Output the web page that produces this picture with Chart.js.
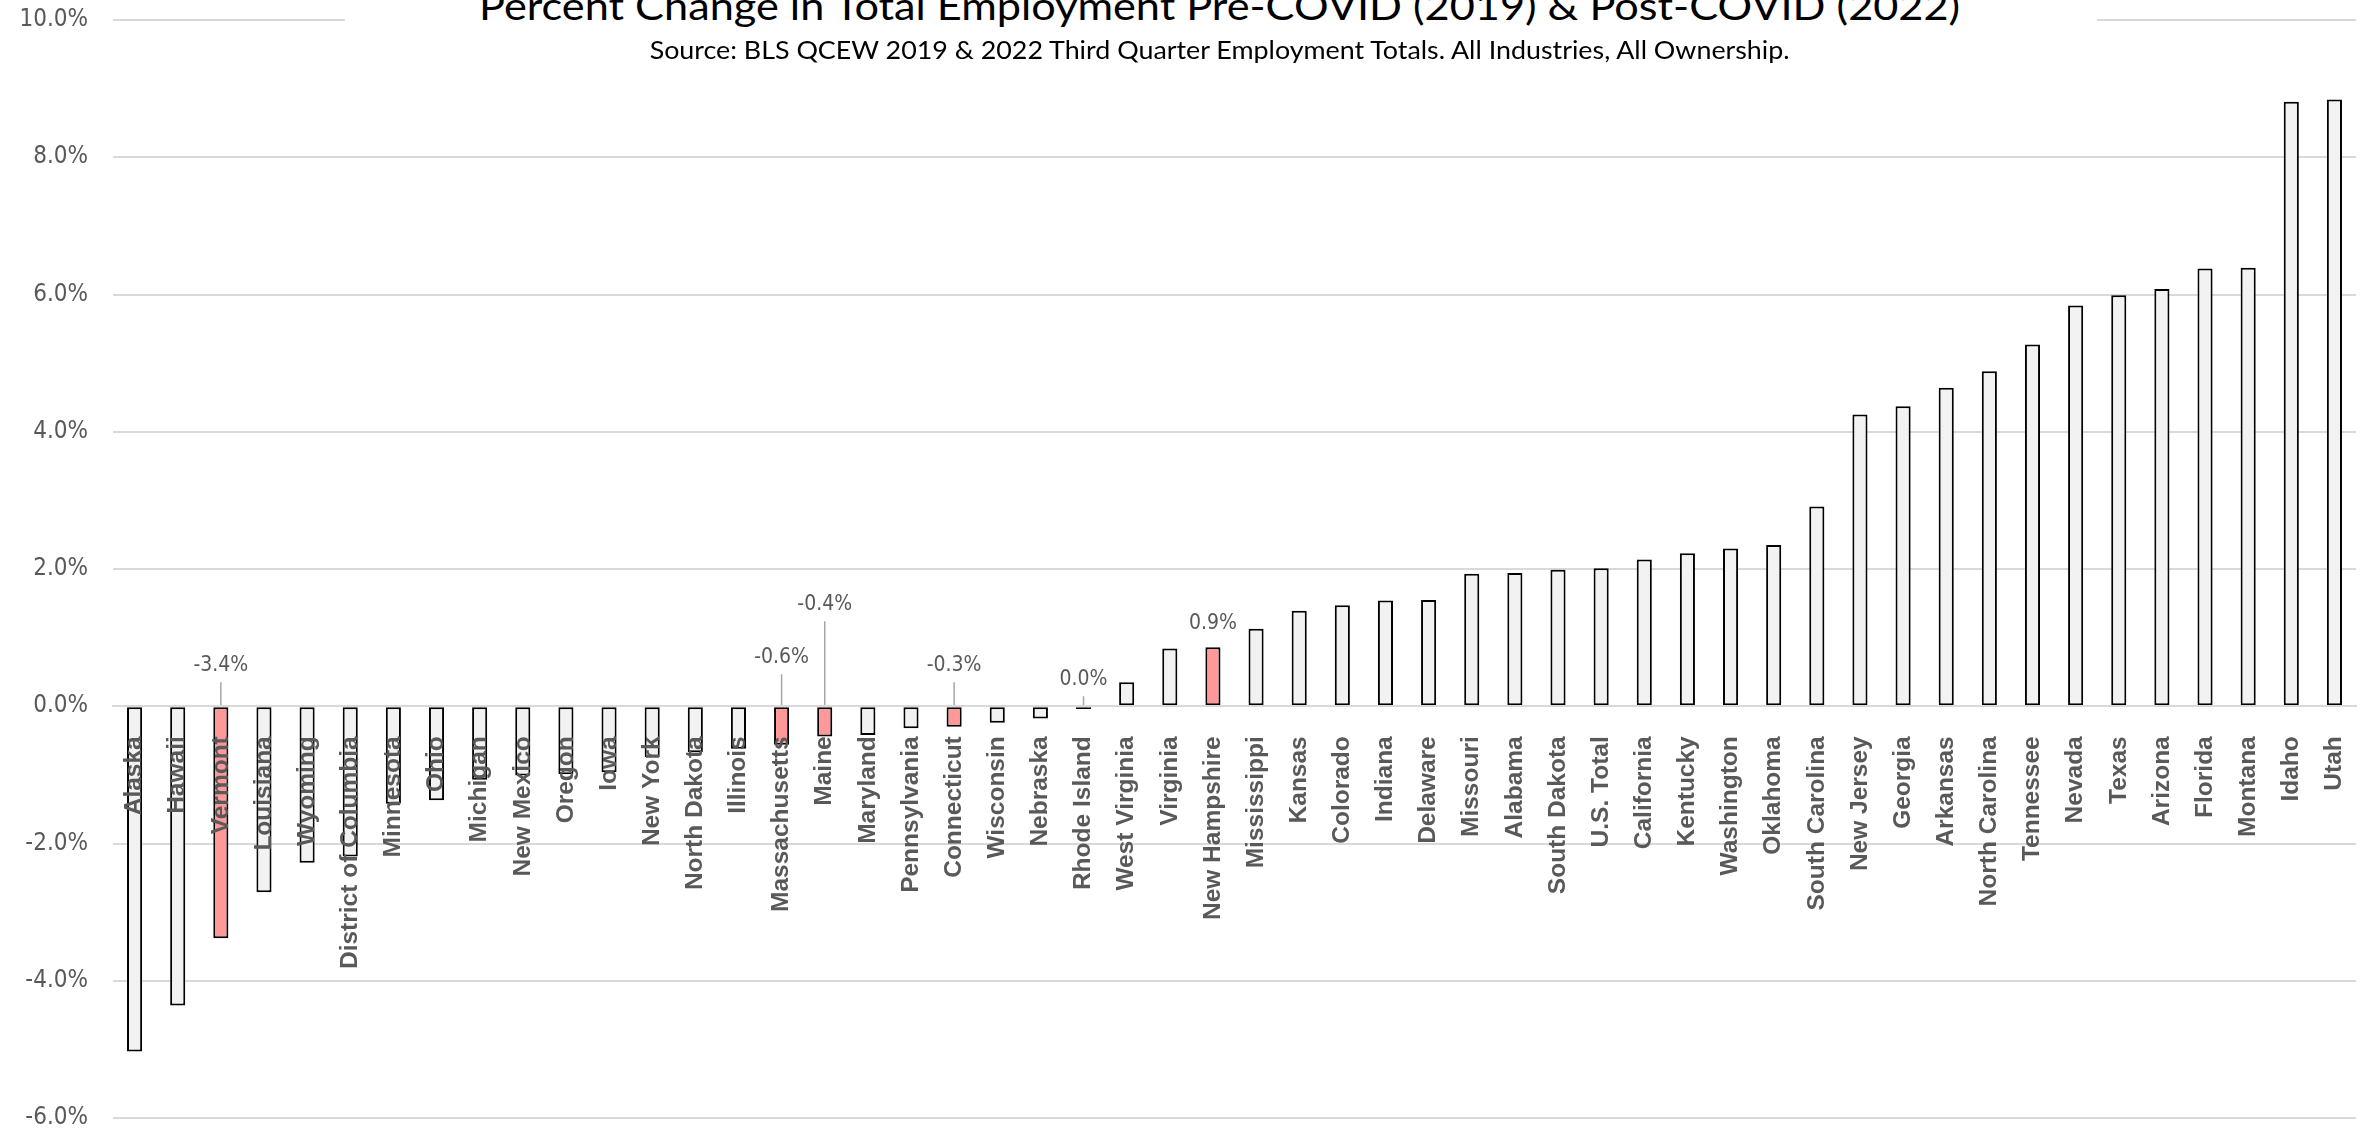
<!DOCTYPE html>
<html>
<head>
<meta charset="utf-8">
<title>Percent Change in Total Employment Pre-COVID (2019) &amp; Post-COVID (2022)</title>
<script src="https://cdn.jsdelivr.net/npm/chart.js@4.4.1/dist/chart.umd.min.js"></script>
<style>
  html, body { margin: 0; padding: 0; background: #fff; overflow: hidden; }
  #wrap { position: relative; width: 2369px; height: 1132px; overflow: hidden; }
  #chart { position: absolute; left: 0; top: 0; }
  #titleBox { position: absolute; left: 345px; top: 0; width: 1752px; height: 34px; background: #fff; }
  .heading { position: absolute; white-space: nowrap; font-family: Lato, "Noto Sans", sans-serif;
             font-weight: 400; color: #000; line-height: 1; transform-origin: 50% 0; }
  #title { font-size: 39px; }
  #subtitle { font-size: 25.5px; }
</style>
</head>
<body>
<div id="wrap">
  <canvas id="chart" width="2369" height="1132"></canvas>
  <div id="titleBox"></div>
  <div id="title" class="heading">Percent Change in Total Employment Pre-COVID (2019) &amp; Post-COVID (2022)</div>
  <div id="subtitle" class="heading">Source: BLS QCEW 2019 &amp; 2022 Third Quarter Employment Totals. All Industries, All Ownership.</div>
</div>
<script>
// States (plus D.C. and the national total), sorted by percent change in employment, Q3 2019 -> Q3 2022
const categories = [
  'Alaska', 'Hawaii', 'Vermont', 'Louisiana', 'Wyoming', 'District of Columbia', 'Minnesota', 'Ohio',
  'Michigan', 'New Mexico', 'Oregon', 'Iowa', 'New York', 'North Dakota', 'Illinois', 'Massachusetts',
  'Maine', 'Maryland', 'Pennsylvania', 'Connecticut', 'Wisconsin', 'Nebraska', 'Rhode Island',
  'West Virginia', 'Virginia', 'New Hampshire', 'Mississippi', 'Kansas', 'Colorado', 'Indiana',
  'Delaware', 'Missouri', 'Alabama', 'South Dakota', 'U.S. Total', 'California', 'Kentucky',
  'Washington', 'Oklahoma', 'South Carolina', 'New Jersey', 'Georgia', 'Arkansas', 'North Carolina',
  'Tennessee', 'Nevada', 'Texas', 'Arizona', 'Florida', 'Montana', 'Idaho', 'Utah'
];

// Percent change in total employment (percentage points)
const changePct = [
  -5.03, -4.36, -3.38, -2.71, -2.28, -2.19, -1.42, -1.37,
  -1.07, -1.01, -0.99, -0.96, -0.74, -0.67, -0.62, -0.56,
  -0.44, -0.42, -0.32, -0.30, -0.24, -0.18, -0.04,
  0.35, 0.84, 0.86, 1.13, 1.39, 1.47, 1.54,
  1.55, 1.93, 1.94, 1.99, 2.01, 2.14, 2.23,
  2.30, 2.35, 2.91, 4.25, 4.37, 4.64, 4.88,
  5.27, 5.84, 5.99, 6.08, 6.38, 6.39, 8.81, 8.84
];

// New England states, called out with their own colour and value labels
const highlighted = ['Vermont', 'Massachusetts', 'Maine', 'Connecticut', 'Rhode Island', 'New Hampshire'];

// Value-axis tick labels (percent)
const yTicks = [-6, -4, -2, 0, 2, 4, 6, 8, 10];

// ---- styling / layout ----
const GREY_TEXT = '#595959';
const GRID = '#d9d9d9';
const NARROW = "'Liberation Sans Narrow', 'Arial Narrow', 'DejaVu Sans Condensed', sans-serif";
const BOLD_SANS = "'Liberation Sans', Arial, sans-serif";

// how far (px) each value label sits above its anchor (zero line, or bar top for gains)
const calloutLift = {
  'Vermont': 41, 'Massachusetts': 49, 'Maine': 102, 'Connecticut': 41,
  'Rhode Island': 27, 'New Hampshire': 24
};

function fmtPct(v) {
  const s = v.toFixed(1);
  return (parseFloat(s) === 0 ? '0.0' : s) + '%';
}

const calloutPlugin = {
  id: 'callouts',
  afterDatasetsDraw(chart) {
    const ctx = chart.ctx;
    const meta = chart.getDatasetMeta(0);
    const zero = chart.scales.y.getPixelForValue(0);
    ctx.save();
    ctx.font = '21px ' + NARROW;
    ctx.fillStyle = GREY_TEXT;
    ctx.textAlign = 'center';
    ctx.textBaseline = 'middle';
    categories.forEach((name, i) => {
      if (!(name in calloutLift)) return;
      const v = changePct[i];
      const bar = meta.data[i];
      const anchor = v > 0 ? bar.y : zero;
      const cy = anchor - calloutLift[name];
      if (v <= 0) {
        ctx.beginPath();
        ctx.strokeStyle = '#a6a6a6';
        ctx.lineWidth = 1.5;
        ctx.moveTo(bar.x, cy + 17);
        ctx.lineTo(bar.x, zero);
        ctx.stroke();
      }
      ctx.fillText(fmtPct(v), bar.x, cy);
    });
    ctx.restore();
  }
};

new Chart(document.getElementById('chart'), {
  type: 'bar',
  data: {
    labels: categories,
    datasets: [{
      data: changePct,
      backgroundColor: categories.map(c => highlighted.includes(c) ? '#ff9999' : '#f2f2f2'),
      borderColor: '#000000',
      borderWidth: 2,
      borderSkipped: false,
      barPercentage: 0.35,
      categoryPercentage: 1
    }]
  },
  options: {
    responsive: false,
    animation: false,
    devicePixelRatio: 1,
    layout: { padding: { left: 0, right: 13, top: 20, bottom: 14 } },
    plugins: {
      legend: { display: false },
      tooltip: { enabled: false },
      title: { display: false }
    },
    scales: {
      x: {
        position: { y: 0 },
        grid: { display: false },
        border: { display: true, color: GRID, width: 2, z: 1 },
        ticks: {
          autoSkip: false,
          minRotation: 90,
          maxRotation: 90,
          padding: 22,
          z: 1,
          color: GREY_TEXT,
          font: { family: BOLD_SANS, size: 24.5, weight: 'bold' }
        },
        afterFit(scale) { scale.paddingLeft = 0; scale.paddingRight = 0; }
      },
      y: {
        min: yTicks[0],
        max: yTicks[yTicks.length - 1],
        afterBuildTicks(scale) { scale.ticks = yTicks.map(v => ({ value: v })); },
        grid: { color: GRID, lineWidth: 2, drawTicks: false },
        border: { display: false },
        ticks: {
          padding: 25,
          color: GREY_TEXT,
          font: { family: NARROW, size: 24 },
          callback: v => Number(v).toFixed(1) + '%'
        },
        afterFit(scale) { scale.width = 113; scale.paddingTop = 0; scale.paddingBottom = 0; }
      }
    }
  },
  plugins: [calloutPlugin]
});

// Centre a heading on cx with its text baseline at `baseline`, stretched to `width`
function placeHeading(id, cx, baseline, width) {
  const el = document.getElementById(id);
  const probe = document.createElement('span');
  probe.style.cssText = 'display:inline-block;width:0;height:0;vertical-align:baseline;';
  el.appendChild(probe);
  el.style.left = '0px';
  el.style.top = '0px';
  const box = el.getBoundingClientRect();
  const base = probe.getBoundingClientRect().top - box.top;
  el.style.transform = 'scaleX(' + (width / box.width) + ')';
  el.style.left = (cx - box.width / 2) + 'px';
  el.style.top = (baseline - base) + 'px';
}
placeHeading('title', 1220, 19.5, 1481);
placeHeading('subtitle', 1220, 59, 1140);
</script>
</body>
</html>
